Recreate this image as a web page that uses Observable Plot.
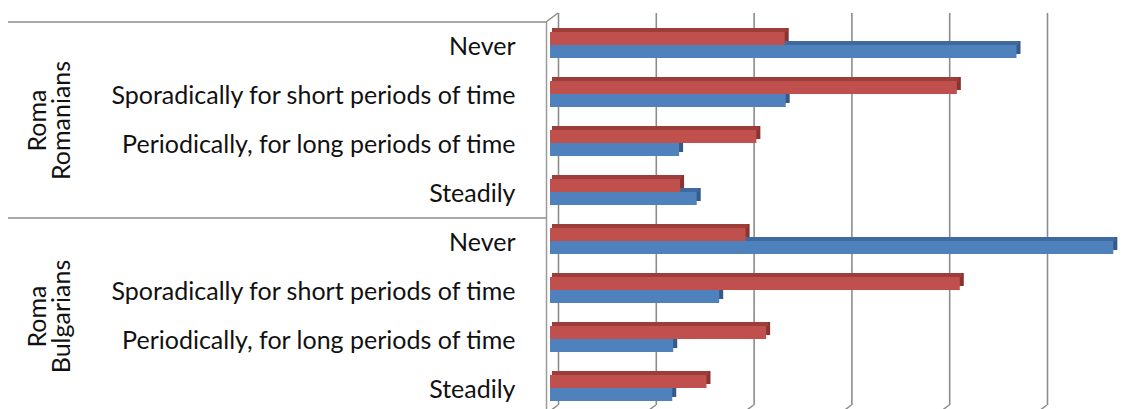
<!DOCTYPE html>
<html>
<head>
<meta charset="utf-8">
<script src="https://cdn.jsdelivr.net/npm/d3@7"></script>
<script src="https://cdn.jsdelivr.net/npm/@observablehq/plot@0.6"></script>
<style>
  html, body { margin: 0; padding: 0; background: #fff; overflow: hidden; }
</style>
</head>
<body>
<div id="chart"></div>
<script>
// Employment frequency, share of respondents (%), by group
const groups = ["Roma\nRomanians", "Roma\nBulgarians"];
const categories = [
  "Never",
  "Sporadically for short periods of time",
  "Periodically, for long periods of time",
  "Steadily"
];
const blueValues = [
  [47.7, 24.1, 13.2, 15.0],
  [57.6, 17.3, 12.6, 12.5]
];
const redValues = [
  [24.0, 41.6, 21.1, 13.3],
  [20.0, 41.9, 22.1, 16.0]
];
const gridTicks = [0, 10, 20, 30, 40, 50];

const rows = groups.flatMap((g, gi) =>
  categories.map((c, ci) => ({
    key: `${gi}|${c}`,
    group: g,
    category: c,
    blue: blueValues[gi][ci],
    red: redValues[gi][ci]
  }))
);

const BAND = 49;         // row height
const DEPTH = 4;         // bar extrusion
const WALL_DX = 12, WALL_DY = -9;  // back wall offset from the front plane
const FONT = 25;

const BLUE = {front: "#4f81bd", top: "#3f6aa0", side: "#345a89"};
const RED = {front: "#c0504d", top: "#9d3d3a", side: "#8a3331"};

// one extruded bar series: side (back copy), top strip, front face
function bar3d(field, color, insetTop, insetBottom) {
  const base = {y: "key", x1: () => 0, x2: field};
  return [
    Plot.barX(rows, {...base, fill: color.side, insetTop, insetBottom, dx: DEPTH, dy: -DEPTH}),
    Plot.barX(rows, {...base, fill: color.top, insetTop: insetTop - DEPTH, insetBottom: BAND - insetTop, dx: DEPTH / 2}),
    Plot.barX(rows, {...base, fill: color.front, insetTop, insetBottom})
  ];
}

// wall corner, floor stubs and the left-hand separators
function walls(index, {x, y}, values, dims) {
  const g = d3.create("svg:g")
    .attr("fill", "none")
    .attr("stroke", "#8c8c8c")
    .attr("stroke-width", 1.5);
  const top = y(rows[0].key);
  const mid = y(rows[categories.length].key);
  const left = x(0) - DEPTH;
  const bottom = dims.height - dims.marginBottom;
  g.append("line")
    .attr("x1", left).attr("y1", top)
    .attr("x2", left + WALL_DX).attr("y2", top + WALL_DY);
  for (const t of gridTicks) {
    g.append("line")
      .attr("x1", x(t) - DEPTH + WALL_DX).attr("y1", bottom + WALL_DY)
      .attr("x2", x(t) - DEPTH).attr("y2", bottom);
  }
  for (const yy of [top, mid]) {
    g.append("line")
      .attr("x1", 8).attr("x2", left)
      .attr("y1", yy).attr("y2", yy);
  }
  return g.node();
}

const chart = Plot.plot({
  width: 1135,
  height: 409,
  marginLeft: 550,
  marginRight: 0,
  marginTop: 22,
  marginBottom: -5,
  style: {fontFamily: "Lato, sans-serif", background: "#fff"},
  x: {domain: [0, 60], range: [550, 1136.8], axis: null},
  y: {domain: rows.map((d) => d.key), padding: 0, round: false, axis: null},
  marks: [
    Plot.ruleX(gridTicks, {dx: WALL_DX - DEPTH, dy: WALL_DY, stroke: "#8c8c8c", strokeWidth: 1.6}),
    Plot.ruleX([0], {dx: -DEPTH, stroke: "#9a9a9a", strokeWidth: 1.5}),
    walls,
    ...bar3d("blue", BLUE, 23, 13),
    ...bar3d("red", RED, 10, 26),
    Plot.text(rows, {
      y: "key", text: "category",
      frameAnchor: "left", textAnchor: "end", dx: -35,
      fontSize: FONT, fill: "#111"
    }),
    Plot.text(groups.map((g, gi) => ({key: `${gi}|${categories[1]}`, label: g})), {
      y: "key", text: "label",
      frameAnchor: "left", textAnchor: "middle", dx: 50 - 550, dy: BAND / 2,
      rotate: -90, fontSize: FONT, lineHeight: 0.95, fill: "#111"
    })
  ]
});

document.getElementById("chart").appendChild(chart);
</script>
</body>
</html>
